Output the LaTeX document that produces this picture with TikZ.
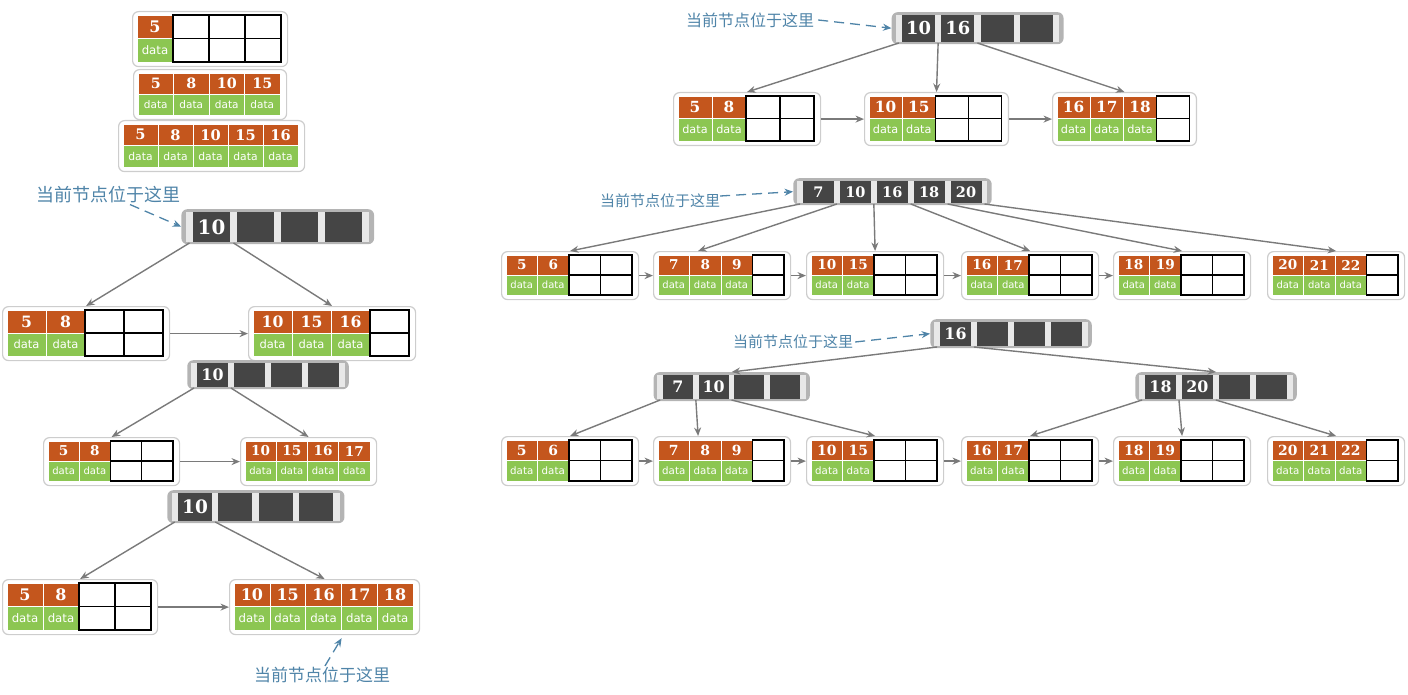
\documentclass[tikz,border=0pt]{standalone}
\usepackage{fontspec}
\setmainfont{DejaVu Serif}
\newfontfamily\keyfont{DejaVu Serif}
\newfontfamily\datafont{DejaVu Sans}
\newfontfamily\cjk{Noto Sans CJK SC}
\usetikzlibrary{positioning, arrows.meta}

\definecolor{keyorange}{HTML}{C4561D}
\definecolor{datagreen}{HTML}{8CC652}
\definecolor{darkcell}{HTML}{454545}
\definecolor{frameout}{HTML}{B4B4B4}
\definecolor{framein}{HTML}{E8E8E8}
\definecolor{leafline}{HTML}{CDCDCD}
\definecolor{linkgray}{HTML}{7A7A7A}
\definecolor{noteblue}{HTML}{4F84A8}

% leaf: name, x, y, cell width, row height, cells, keys
\newcommand{\leafnode}[7]{%
  \pgfmathsetmacro\kfs{0.68*#5}%
  \pgfmathsetmacro\dfs{0.5*#5}%
  \node[leafbox, anchor=north west, minimum width={#6*#4+11}, minimum height={2*#5+8}] (#1) at ({#2-5},{#3-4}) {};
  \foreach \ki [count=\ci from 0] in {#7} {
    \filldraw[keycell] ({#2+\ci*#4},#3) rectangle ++(#4,#5);
    \filldraw[datacell] ({#2+\ci*#4},{#3+#5}) rectangle ++(#4,#5);
    \node[keytxt, font=\keyfont\bfseries\fontsize{\kfs}{\kfs}\selectfont] at ({#2+(\ci+0.5)*#4},{#3+0.5*#5}) {\ki};
    \node[datatxt, font=\datafont\fontsize{\dfs}{\dfs}\selectfont] at ({#2+(\ci+0.5)*#4},{#3+1.5*#5}) {data};
    \pgfmathtruncatemacro\nk{\ci+1}\xdef\nkeys{\nk}%
  }
  \ifnum\nkeys<#6\relax
    \draw[emptygrid] ({#2+\nkeys*#4},#3) rectangle ({#2+#6*#4},{#3+2*#5});
    \draw[emptygrid] ({#2+\nkeys*#4},{#3+#5}) -- ({#2+#6*#4},{#3+#5});
    \foreach \ci in {\nkeys,...,#6} \draw[emptygrid] ({#2+\ci*#4},#3) -- ++(0,{2*#5});
  \fi
}

% inner node: name, x, y, cell width, cell height, cells, keys
\newcommand{\innernode}[7]{%
  \pgfmathsetmacro\ing{0.19*#4}%
  \pgfmathsetmacro\inp{#4+\ing}%
  \pgfmathsetmacro\inm{0.32*#4}%
  \pgfmathsetmacro\infs{0.66*#5}%
  \node[inbox, anchor=north west, minimum width={(#6-1)*\inp+#4+2*\inm}, minimum height={#5+5}] (#1) at ({#2-\inm},{#3-3}) {};
  \fill[framein] ({#2-\ing},#3) rectangle ({#2+(#6-1)*\inp+#4+\ing},{#3+#5});
  \foreach \ci in {1,...,#6} \fill[darkcell] ({#2+(\ci-1)*\inp},#3) rectangle ++(#4,#5);
  \foreach \ki [count=\ci from 0] in {#7}
    \node[keytxt, font=\keyfont\bfseries\fontsize{\infs}{\infs}\selectfont] at ({#2+\ci*\inp+0.5*#4},{#3+0.5*#5}) {\ki};
  \foreach \ci in {0,...,#6} \coordinate (#1-p\ci) at ({#2+\ci*\inp-0.5*\ing},{#3+#5+1});
}

\begin{document}
\begin{tikzpicture}[x=1pt, y=-1pt,
    leafbox/.style={rectangle, rounded corners=6pt, draw=leafline, line width=1.2pt, fill=white, inner sep=0pt},
    inbox/.style={rectangle, rounded corners=6pt, fill=frameout, inner sep=0pt},
    keycell/.style={fill=keyorange, draw=white, line width=0.6pt},
    datacell/.style={fill=datagreen, draw=white, line width=0.6pt},
    emptygrid/.style={draw=black, line width=1.1pt},
    keytxt/.style={text=white, inner sep=0pt},
    datatxt/.style={text=white, inner sep=0pt},
    link/.style={-{Stealth[length=8.5pt, width=7pt]}, draw=linkgray, line width=1.4pt},
    note/.style={text=noteblue, inner sep=0pt},
    notelink/.style={-{Stealth[length=8.5pt, width=7pt]}, draw=noteblue, line width=1.3pt, dash pattern=on 10pt off 6pt}]
  \useasboundingbox (0,0) rectangle (1408,695);

  \leafnode{A1}{137}{15}{36}{23.5}{4}{5}
  \leafnode{A2}{138}{73}{35.5}{21}{4}{5,8,10,15}
  \leafnode{A3}{123}{124}{35}{21.5}{5}{5,8,10,15,16}

  \node[note, font=\cjk\fontsize{18}{18}\selectfont] (lblB) at (108,195) {当前节点位于这里};
  \innernode{B}{193}{212}{37}{30}{4}{10}
  \leafnode{B1}{7}{310}{39}{23}{4}{5,8}
  \leafnode{B2}{253}{310}{39}{23}{4}{10,15,16}

  \innernode{C}{197}{363}{31}{24}{4}{10}
  \leafnode{C1}{48}{441}{31.25}{20}{4}{5,8}
  \leafnode{C2}{245}{441}{31.25}{20}{4}{10,15,16,17}

  \innernode{D}{178}{493}{34}{28}{4}{10}
  \leafnode{D1}{7}{583}{36}{23.5}{4}{5,8}
  \leafnode{D2}{234}{583}{35.8}{23.5}{5}{10,15,16,17,18}
  \node[note, font=\cjk\fontsize{17}{17}\selectfont] (lblD) at (322,675) {当前节点位于这里};

  \node[note, font=\cjk\fontsize{16}{16}\selectfont] (lblE) at (750,20) {当前节点位于这里};
  \innernode{E}{902}{15}{33}{27}{4}{10,16}
  \leafnode{E1}{678}{96}{34}{22.5}{4}{5,8}
  \leafnode{E2}{869}{96}{33.2}{22.5}{4}{10,15}
  \leafnode{E3}{1057}{96}{33.2}{22.5}{4}{16,17,18}

  \node[note, font=\cjk\fontsize{15}{15}\selectfont] (lblF) at (660,201) {当前节点位于这里};
  \innernode{F}{803}{181}{31}{22}{5}{7,10,16,18,20}
  \leafnode{F1}{506}{255}{31.5}{20}{4}{5,6}
  \leafnode{F2}{658}{255}{31.5}{20}{4}{7,8,9}
  \leafnode{F3}{811}{255}{31.5}{20}{4}{10,15}
  \leafnode{F4}{966}{255}{31.5}{20}{4}{16,17}
  \leafnode{F5}{1118}{255}{31.5}{20}{4}{18,19}
  \leafnode{F6}{1272}{255}{31.5}{20}{4}{20,21,22}

  \node[note, font=\cjk\fontsize{15}{15}\selectfont] (lblG) at (793,342) {当前节点位于这里};
  \innernode{G}{940}{322}{31}{24}{4}{16}
  \innernode{H}{663}{375}{30}{24}{4}{7,10}
  \innernode{I}{1145}{375}{31}{24}{4}{18,20}
  \leafnode{L1}{506}{440}{31.5}{20.5}{4}{5,6}
  \leafnode{L2}{658}{440}{31.5}{20.5}{4}{7,8,9}
  \leafnode{L3}{811}{440}{31.5}{20.5}{4}{10,15}
  \leafnode{L4}{966}{440}{31.5}{20.5}{4}{16,17}
  \leafnode{L5}{1118}{440}{31.5}{20.5}{4}{18,19}
  \leafnode{L6}{1272}{440}{31.5}{20.5}{4}{20,21,22}

  \draw[notelink] ([xshift=22pt, yshift=-1pt]lblB.south) -- (B.west);
  \draw[link] (B-p0) -- (B1.north);
  \draw[link] (B-p1) -- (B2.north);
  \draw[link] (B1.east) -- (B2.west);

  \draw[link] (C-p0) -- (C1.north);
  \draw[link] (C-p1) -- (C2.north);
  \draw[link] (C1.east) -- (C2.west);

  \draw[link] (D-p0) -- (D1.north);
  \draw[link] (D-p1) -- (D2.north);
  \draw[link] (D1.east) -- (D2.west);
  \draw[notelink] ([xshift=3pt, yshift=1pt]lblD.north) -- ([xshift=17pt, yshift=-3pt]D2.south);

  \draw[notelink] ([xshift=4pt]lblE.east) -- (E.west);
  \draw[link] (E-p0) -- (E1.north);
  \draw[link] (E-p1) -- (E2.north);
  \draw[link] (E-p2) -- (E3.north);
  \draw[link] (E1.east) -- (E2.west);
  \draw[link] (E2.east) -- (E3.west);

  \draw[notelink] ([yshift=5pt]lblF.east) -- (F.west);
  \draw[link] (F-p0) -- (F1.north);
  \draw[link] (F-p1) -- ([xshift=-24pt]F2.north);
  \draw[link] (F-p2) -- (F3.north);
  \draw[link] (F-p3) -- (F4.north);
  \draw[link] (F-p4) -- (F5.north);
  \draw[link] (F-p5) -- (F6.north);
  \draw[link] (F1.east) -- (F2.west);
  \draw[link] (F2.east) -- (F3.west);
  \draw[link] (F3.east) -- (F4.west);
  \draw[link] (F4.east) -- (F5.west);

  \draw[notelink] ([xshift=2pt]lblG.east) -- (G.west);
  \draw[link] (G-p0) -- (H.north);
  \draw[link] (G-p1) -- (I.north);
  \draw[link] (H-p0) -- (L1.north);
  \draw[link] (H-p1) -- ([xshift=-24pt]L2.north);
  \draw[link] (H-p2) -- (L3.north);
  \draw[link] (I-p0) -- (L4.north);
  \draw[link] (I-p1) -- (L5.north);
  \draw[link] (I-p2) -- (L6.north);
  \draw[link] (L1.east) -- (L2.west);
  \draw[link] (L2.east) -- (L3.west);
  \draw[link] (L3.east) -- (L4.west);
  \draw[link] (L4.east) -- (L5.west);
\end{tikzpicture}
\end{document}
